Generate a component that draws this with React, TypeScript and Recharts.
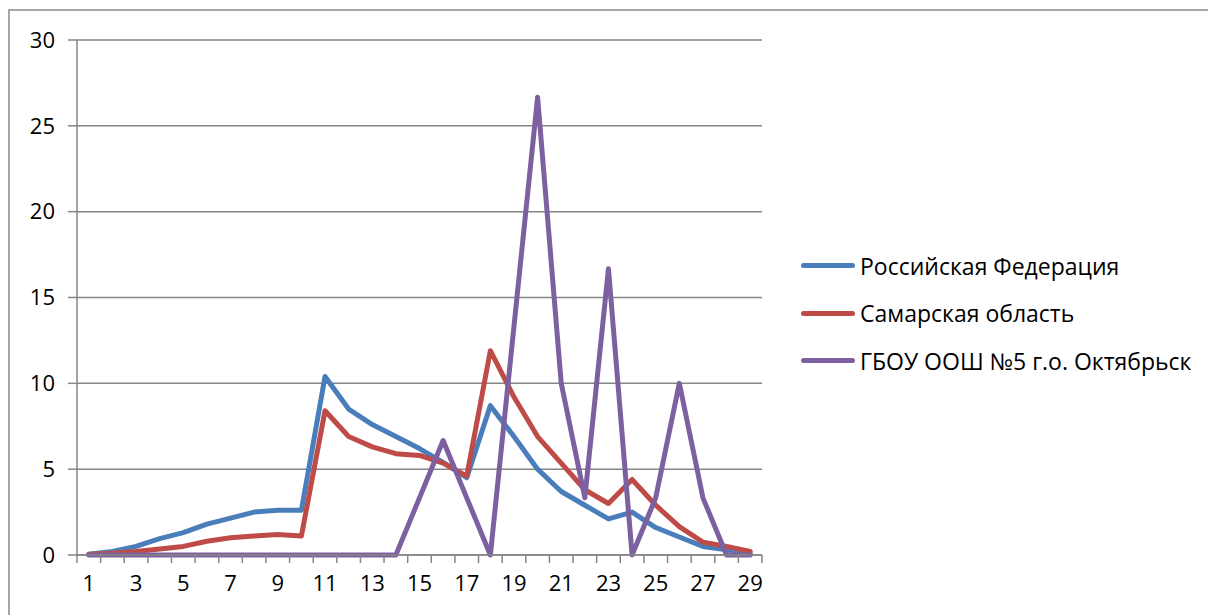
import { LineChart, Line, XAxis, YAxis, CartesianGrid } from "recharts";

const categories = [
	"1", "2", "3", "4", "5", "6", "7", "8", "9", "10",
	"11", "12", "13", "14", "15", "16", "17", "18", "19", "20",
	"21", "22", "23", "24", "25", "26", "27", "28", "29",
];

const russia = [
	0.05, 0.2, 0.5, 0.95, 1.3, 1.8, 2.15, 2.5, 2.6, 2.6,
	10.4, 8.5, 7.6, 6.9, 6.2, 5.4, 4.5, 8.7, 6.9, 5.0,
	3.7, 2.9, 2.1, 2.5, 1.6, 1.05, 0.5, 0.3, 0.08,
];

const samara = [
	0.05, 0.1, 0.2, 0.35, 0.5, 0.8, 1.0, 1.1, 1.2, 1.1,
	8.4, 6.9, 6.3, 5.9, 5.8, 5.35, 4.6, 11.9, 9.2, 6.9,
	5.35, 3.8, 3.0, 4.4, 2.9, 1.65, 0.75, 0.5, 0.2,
];

const school = [
	0, 0, 0, 0, 0, 0, 0, 0, 0, 0,
	0, 0, 0, 0, 3.33, 6.67, 3.33, 0, 13.33, 26.67,
	10, 3.33, 16.67, 0, 3.33, 10, 3.33, 0, 0,
];

const seriesNames = [
	"Российская Федерация",
	"Самарская область",
	"ГБОУ ООШ №5 г.о. Октябрьск",
];

const yTicks = [0, 5, 10, 15, 20, 25, 30];

const data = categories.map((c, i) => ({
	cat: c,
	rf: russia[i],
	sam: samara[i],
	sch: school[i],
}));

const FONT = "'Open Sans', sans-serif";
const GRAY = "#868686";
const PLOT_LEFT = 77;
const PLOT_RIGHT = 762;
const BAND = (PLOT_RIGHT - PLOT_LEFT) / categories.length;

const XTick = (props: any) => {
	const { x, y, index } = props;
	const half = BAND / 2;
	return (
		<g>
			<line x1={x - half} x2={x - half} y1={y} y2={y + 8} stroke={GRAY} strokeWidth={1.5} />
			{index === categories.length - 1 && (
				<line x1={x + half} x2={x + half} y1={y} y2={y + 8} stroke={GRAY} strokeWidth={1.5} />
			)}
			{index % 2 === 0 && (
				<text x={x} y={y + 36} textAnchor="middle" fontSize={22} fontFamily={FONT} fill="#000">
					{props.payload.value}
				</text>
			)}
		</g>
	);
};

const colors = ["#4a7ebb", "#be4b48", "#7d60a0"];

export default function App() {
	return (
		<div style={{ position: "relative", width: 1208, height: 615, overflow: "hidden", background: "#fff" }}>
			<style>{`body{margin:0}`}</style>
			<div
				style={{
					position: "absolute",
					left: 8,
					top: 9,
					width: 1400,
					height: 800,
					borderTop: "2px solid #a6a6a6",
					borderLeft: "2px solid #a6a6a6",
				}}
			/>
			<div style={{ position: "absolute", left: 0, top: 0 }}>
				<LineChart
					width={1208}
					height={615}
					data={data}
					margin={{ top: 40, right: 1208 - PLOT_RIGHT, left: 0, bottom: 0 }}
				>
					<CartesianGrid vertical={false} stroke={GRAY} strokeWidth={1.5} />
					<XAxis
						dataKey="cat"
						scale="band"
						interval={0}
						height={60}
						tickSize={0}
						tickMargin={0}
						tickLine={false}
						axisLine={{ stroke: GRAY, strokeWidth: 1.5 }}
						tick={<XTick />}
					/>
					<YAxis
						width={PLOT_LEFT}
						domain={[0, 30]}
						ticks={yTicks}
						interval={0}
						tickSize={9}
						tickMargin={13}
						tickLine={{ stroke: GRAY, strokeWidth: 1.5 }}
						axisLine={{ stroke: GRAY, strokeWidth: 1.5 }}
						tick={{ fill: "#000", fontSize: 22, fontFamily: FONT }}
					/>
					<Line type="linear" dataKey="rf" name={seriesNames[0]} stroke={colors[0]} strokeWidth={5} dot={false} strokeLinejoin="round" strokeLinecap="round" isAnimationActive={false} />
					<Line type="linear" dataKey="sam" name={seriesNames[1]} stroke={colors[1]} strokeWidth={5} dot={false} strokeLinejoin="round" strokeLinecap="round" isAnimationActive={false} />
					<Line type="linear" dataKey="sch" name={seriesNames[2]} stroke={colors[2]} strokeWidth={5} dot={false} strokeLinejoin="round" strokeLinecap="round" isAnimationActive={false} />
				</LineChart>
			</div>
			<div style={{ position: "absolute", left: 801, top: 242, fontFamily: FONT, fontSize: 23, color: "#000" }}>
				{seriesNames.map((n, i) => (
					<div key={n} style={{ display: "flex", alignItems: "center", height: 47.5 }}>
						<span
							style={{
								display: "inline-block",
								width: 54,
								height: 5,
								borderRadius: 3,
								background: colors[i],
								marginRight: 5,
							}}
						/>
						<span style={{ whiteSpace: "nowrap" }}>{n}</span>
					</div>
				))}
			</div>
		</div>
	);
}
